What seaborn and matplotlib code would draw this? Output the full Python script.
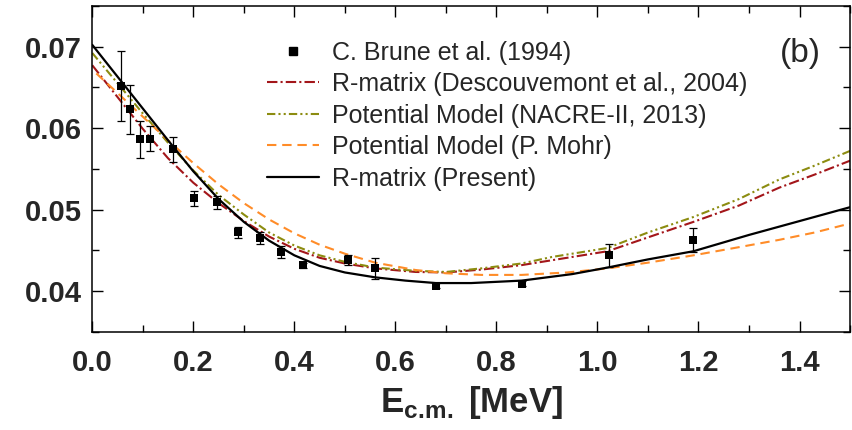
import numpy as np
import pandas as pd
import matplotlib
matplotlib.use("Agg")
import matplotlib.pyplot as plt
from matplotlib.ticker import MultipleLocator, FormatStrFormatter
from matplotlib.lines import Line2D
import seaborn as sns

# ---- data ----
exp_x = [0.056, 0.075, 0.095, 0.114, 0.160, 0.201, 0.246, 0.288, 0.332, 0.374,
         0.418, 0.506, 0.560, 0.680, 0.850, 1.022, 1.190]
exp_y = [0.0652, 0.0623, 0.0586, 0.0587, 0.0574, 0.0514, 0.0509, 0.0472, 0.0465,
         0.0448, 0.0432, 0.0438, 0.0428, 0.0407, 0.0409, 0.0444, 0.0463]
exp_err = [0.0043, 0.0030, 0.0023, 0.0015, 0.0015, 0.0009, 0.0008, 0.0007, 0.00075,
           0.0007, 0.0003, 0.0006, 0.0013, 0.0003, 0.0003, 0.0014, 0.0015]

desc_x = [0, 0.05, 0.10, 0.15, 0.20, 0.25, 0.30, 0.35, 0.40, 0.45, 0.50, 0.56,
          0.64, 0.70, 0.77, 0.85, 0.91, 1.02, 1.10, 1.19, 1.28, 1.36, 1.43, 1.50]
desc_y = [0.0677, 0.0638, 0.0599, 0.0563, 0.0533, 0.0508, 0.0486, 0.0467, 0.0452,
          0.0441, 0.0434, 0.0428, 0.04236, 0.0423, 0.04265, 0.0432, 0.0438, 0.0449,
          0.0466, 0.0485, 0.0505, 0.0527, 0.0543, 0.0560]

nacre_x = [0, 0.05, 0.10, 0.15, 0.20, 0.25, 0.30, 0.35, 0.40, 0.45, 0.50, 0.56,
           0.64, 0.70, 0.77, 0.85, 0.91, 1.02, 1.10, 1.19, 1.28, 1.36, 1.43, 1.50]
nacre_y = [0.0692, 0.0655, 0.0618, 0.0582, 0.0548, 0.0518, 0.0494, 0.0472, 0.0456,
           0.0444, 0.0436, 0.0429, 0.0425, 0.04236, 0.0428, 0.0434, 0.0442, 0.0453,
           0.0472, 0.0491, 0.0513, 0.0537, 0.0554, 0.0572]

mohr_x = [0.008, 0.05, 0.10, 0.15, 0.20, 0.25, 0.30, 0.35, 0.40, 0.45, 0.50, 0.56,
          0.64, 0.70, 0.77, 0.85, 0.94, 1.02, 1.10, 1.19, 1.28, 1.36, 1.43, 1.50]
mohr_y = [0.0667, 0.0643, 0.0614, 0.0585, 0.0557, 0.0531, 0.0508, 0.0488, 0.0471,
          0.0457, 0.0446, 0.0435, 0.0426, 0.0422, 0.0420, 0.0420, 0.0423, 0.0428,
          0.0435, 0.0444, 0.0454, 0.0463, 0.0472, 0.0483]

pres_x = [0, 0.05, 0.10, 0.15, 0.20, 0.25, 0.30, 0.35, 0.40, 0.45, 0.50, 0.56,
          0.62, 0.68, 0.75, 0.85, 0.95, 1.02, 1.10, 1.19, 1.30, 1.40, 1.50]
pres_y = [0.0702, 0.0663, 0.0624, 0.0585, 0.0547, 0.0513, 0.0485, 0.0462, 0.0444,
          0.0431, 0.0423, 0.0417, 0.0413, 0.0410, 0.0410, 0.0413, 0.0421, 0.0429,
          0.0439, 0.0449, 0.0469, 0.0486, 0.0503]

labels = ["C. Brune et al. (1994)",
          "R-matrix (Descouvemont et al., 2004)",
          "Potential Model (NACRE-II, 2013)",
          "Potential Model (P. Mohr)",
          "R-matrix (Present)"]
xticks = [0.0, 0.2, 0.4, 0.6, 0.8, 1.0, 1.2, 1.4]
yticks = [0.04, 0.05, 0.06, 0.07]

# ---- style ----
sns.set_theme(style="ticks")
plt.rcParams["font.family"] = ["Liberation Sans", "DejaVu Sans"]
plt.rcParams["mathtext.fontset"] = "custom"
plt.rcParams["mathtext.rm"] = "Liberation Sans"
plt.rcParams["mathtext.bf"] = "Liberation Sans:bold"

c_red = "#A3161A"
c_olive = "#8C8C10"
c_orange = "#FF8C28"
ls_red = (0, (5, 1.5, 1, 1.5))
ls_olive = (0, (4, 1.5, 1, 1.5, 1, 1.5))
ls_orange = (0, (4.5, 2.8))

fig = plt.figure(figsize=(8.52, 4.30), dpi=100)
ax = fig.add_axes([0.1083, 0.2279, 0.8894, 0.7588])

sns.lineplot(x=desc_x, y=desc_y, ax=ax, color=c_red, lw=1.5, linestyle=ls_red)
sns.lineplot(x=nacre_x, y=nacre_y, ax=ax, color=c_olive, lw=1.5, linestyle=ls_olive)
sns.lineplot(x=mohr_x, y=mohr_y, ax=ax, color=c_orange, lw=1.5, linestyle=ls_orange)
sns.lineplot(x=pres_x, y=pres_y, ax=ax, color="black", lw=1.6)

ax.errorbar(exp_x, exp_y, yerr=exp_err, fmt="none", ecolor="black",
            elinewidth=0.9, capsize=3.2, capthick=0.9, zorder=4)
sns.scatterplot(x=exp_x, y=exp_y, ax=ax, marker="s", s=38, color="black",
                edgecolor="black", linewidth=0, zorder=5)

ax.set_xlim(0, 1.5)
ax.set_ylim(0.035, 0.075)
ax.set_xticks(xticks)
ax.set_yticks(yticks)
ax.xaxis.set_minor_locator(MultipleLocator(0.1))
ax.yaxis.set_minor_locator(MultipleLocator(0.005))
ax.xaxis.set_major_formatter(FormatStrFormatter("%.1f"))
ax.yaxis.set_major_formatter(FormatStrFormatter("%.2f"))

ax.tick_params(which="both", direction="in", top=True, right=True,
               color="black", width=1.0)
ax.tick_params(which="major", length=8)
ax.tick_params(which="minor", length=5)
ax.tick_params(axis="x", which="major", pad=12, labelsize=21)
ax.tick_params(axis="y", which="major", pad=7.5, labelsize=21)
for lab in ax.get_xticklabels() + ax.get_yticklabels():
    lab.set_fontweight("bold")
for sp in ax.spines.values():
    sp.set_visible(True)
    sp.set_linewidth(1.1)
    sp.set_color("black")

ax.set_xlabel(r"$\mathbf{E}_{\mathbf{c.\!m.}}$ [MeV]", fontsize=25,
              fontweight="bold", labelpad=5)
ax.set_ylabel("")

ax.text(0.935, 0.855, "(b)", transform=ax.transAxes, ha="center", va="center",
        fontsize=24)

handles = [
    Line2D([], [], linestyle="none", marker="s", markersize=5.5, color="black"),
    Line2D([], [], color=c_red, lw=1.5, linestyle=ls_red),
    Line2D([], [], color=c_olive, lw=1.5, linestyle=ls_olive),
    Line2D([], [], color=c_orange, lw=1.5, linestyle=ls_orange),
    Line2D([], [], color="black", lw=1.6),
]
ax.legend(handles, labels, loc="upper left", bbox_to_anchor=(0.230, 0.893),
          frameon=False, fontsize=18, borderpad=0, handlelength=2.1,
          handletextpad=0.5, labelspacing=0.3, borderaxespad=0)

fig.savefig("out.png", dpi=100)
